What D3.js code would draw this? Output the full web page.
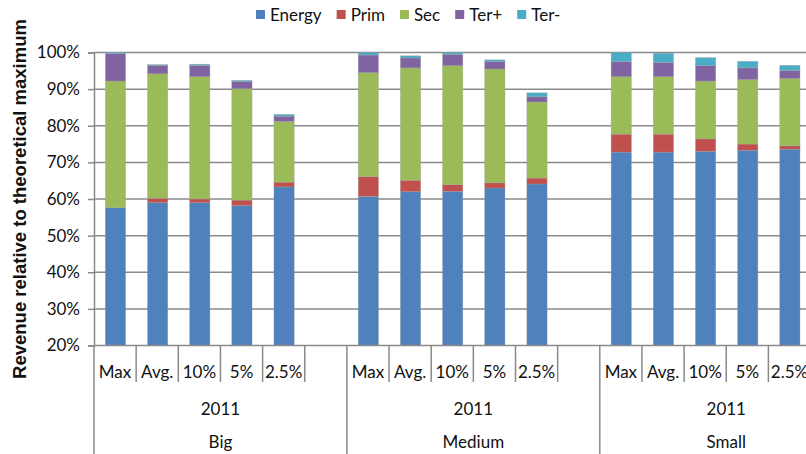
<!DOCTYPE html>
<html>
<head>
<meta charset="utf-8">
<script src="https://cdn.jsdelivr.net/npm/d3@7"></script>
<style>
  html, body { margin: 0; padding: 0; background: #fff; }
  svg { display: block; overflow: hidden; }
  text { font-family: Lato, "Open Sans", sans-serif; fill: #111; }
</style>
</head>
<body>
<svg id="chart" width="806" height="454"></svg>
<script>
// Revenue share by strategy, stacked per component, three farm sizes (2011)
const groups = ["Big", "Medium", "Small"];
const year = "2011";
const strategies = ["Max", "Avg.", "10%", "5%", "2.5%"];
const seriesNames = ["Energy", "Prim", "Sec", "Ter+", "Ter-"];
const seriesColors = ["#4F81BD", "#C0504D", "#9BBB59", "#8064A2", "#4BACC6"];

// values in % of theoretical maximum, order: Big x5, Medium x5, Small x5
const energy   = [57.6, 59.0, 59.0, 58.2, 63.3,  60.7, 62.0, 62.1, 63.0, 64.1,  72.8, 72.8, 73.0, 73.3, 73.6];
const prim     = [ 0.0,  1.2,  1.0,  1.5,  1.3,   5.4,  3.1,  1.8,  1.4,  1.6,   4.9,  4.9,  3.4,  1.7,  0.9];
const sec      = [34.6, 34.0, 33.4, 30.4, 16.6,  28.4, 30.7, 32.5, 31.1, 20.8,  15.7, 15.7, 15.8, 17.6, 18.4];
const terPlus  = [ 7.5,  2.3,  3.1,  2.0,  1.4,   4.8,  2.7,  3.1,  2.0,  1.4,   4.1,  3.9,  4.2,  3.2,  2.2];
const terMinus = [ 0.3,  0.2,  0.3,  0.3,  0.5,   0.7,  0.6,  0.5,  0.5,  1.1,   2.5,  2.5,  2.2,  1.8,  1.4];
const yTicks = [20, 30, 40, 50, 60, 70, 80, 90, 100];

const svg = d3.select("#chart");
const W = 806, H = 454;
const plot = { left: 94, top: 52.5, bottom: 345.5, slotW: 42.15 };
const labelSize = "17px";

// every group has the five strategies plus one empty slot
const slots = [];
groups.forEach(g => {
  strategies.forEach(s => slots.push(g + "|" + s));
  slots.push(g + "|gap");
});

const x = d3.scaleBand()
  .domain(slots)
  .range([plot.left, plot.left + slots.length * plot.slotW])
  .paddingInner(0).paddingOuter(0);

const y = d3.scaleLinear().domain([20, 100]).range([plot.bottom, plot.top]);

const rows = [];
groups.forEach((g, gi) => strategies.forEach((s, si) => {
  const i = gi * strategies.length + si;
  rows.push({ key: g + "|" + s, Energy: energy[i], Prim: prim[i], Sec: sec[i],
              "Ter+": terPlus[i], "Ter-": terMinus[i] });
}));
const stacked = d3.stack().keys(seriesNames)(rows);

const gridColor = "#8a8a8a";

// horizontal gridlines
svg.append("g").selectAll("line")
  .data(yTicks.filter(t => t > 20))
  .join("line")
  .attr("x1", plot.left).attr("x2", W)
  .attr("y1", d => y(d)).attr("y2", d => y(d))
  .attr("stroke", gridColor).attr("stroke-width", 1.5);

// stacked bars
const barW = 20.3;
const barG = svg.append("g");
stacked.forEach((layer, li) => {
  barG.append("g")
    .attr("fill", seriesColors[li])
    .selectAll("rect")
    .data(layer)
    .join("rect")
    .attr("x", d => x(d.data.key) + x.bandwidth() / 2 - barW / 2 + 0.4)
    .attr("width", barW)
    .attr("y", d => y(Math.max(20, d[1])))
    .attr("height", d => Math.max(0, y(Math.max(20, d[0])) - y(Math.max(20, d[1]))))
    .attr("stroke", "rgba(160,160,160,0.55)")
    .attr("stroke-width", 0.6);
});

// y axis
const yAxis = svg.append("g")
  .attr("transform", `translate(${plot.left},0)`)
  .call(d3.axisLeft(y).tickValues(yTicks).tickFormat(d => d + "%").tickSize(6).tickPadding(8));
yAxis.select(".domain").attr("stroke", gridColor).attr("stroke-width", 1.5);
yAxis.selectAll(".tick line").attr("stroke", gridColor).attr("stroke-width", 1.5);
yAxis.selectAll(".tick text")
  .style("font-family", "Lato, sans-serif").style("font-size", labelSize).attr("fill", "#111");

// x axis baseline
svg.append("line")
  .attr("x1", plot.left).attr("x2", W)
  .attr("y1", plot.bottom).attr("y2", plot.bottom)
  .attr("stroke", gridColor).attr("stroke-width", 1.5);

// category separators: short between strategies, full height between groups
const sepG = svg.append("g");
slots.forEach((s, i) => {
  const gx = x(s);
  const isGroupStart = i % (strategies.length + 1) === 0;
  sepG.append("line")
    .attr("x1", gx).attr("x2", gx)
    .attr("y1", plot.bottom).attr("y2", isGroupStart ? H : 382)
    .attr("stroke", gridColor).attr("stroke-width", 1.5);
});

// strategy labels
svg.append("g").selectAll("text")
  .data(rows)
  .join("text")
  .attr("x", d => x(d.key) + x.bandwidth() / 2)
  .attr("y", 371)
  .attr("text-anchor", "middle")
  .attr("dominant-baseline", "central")
  .style("font-size", labelSize)
  .text(d => d.key.split("|")[1]);

// year and group labels
groups.forEach(g => {
  const gx0 = x(g + "|" + strategies[0]);
  const gx1 = x(g + "|gap") + x.bandwidth();
  const cx = (gx0 + gx1) / 2;
  svg.append("text").attr("x", cx).attr("y", 408)
    .attr("text-anchor", "middle").attr("dominant-baseline", "central")
    .style("font-size", labelSize).text(year);
  svg.append("text").attr("x", cx).attr("y", 441)
    .attr("text-anchor", "middle").attr("dominant-baseline", "central")
    .style("font-size", labelSize).text(g);
});

// y axis title
svg.append("text")
  .attr("transform", `translate(19,${(plot.top + plot.bottom) / 2}) rotate(-90)`)
  .attr("text-anchor", "middle")
  .attr("dominant-baseline", "central")
  .style("font-family", "'Liberation Sans', Arial, sans-serif")
  .style("font-weight", "bold")
  .style("font-size", "18.5px")
  .text("Revenue relative to theoretical maximum");

// legend
const legend = svg.append("g");
let lx = 256;
seriesNames.forEach((name, i) => {
  legend.append("rect")
    .attr("x", lx).attr("y", 10).attr("width", 9).attr("height", 9)
    .attr("fill", seriesColors[i]);
  const t = legend.append("text")
    .attr("x", lx + 14).attr("y", 14.5)
    .attr("dominant-baseline", "central")
    .style("font-size", labelSize)
    .text(name);
  lx += 14 + t.node().getComputedTextLength() + 15;
});
</script>
</body>
</html>
